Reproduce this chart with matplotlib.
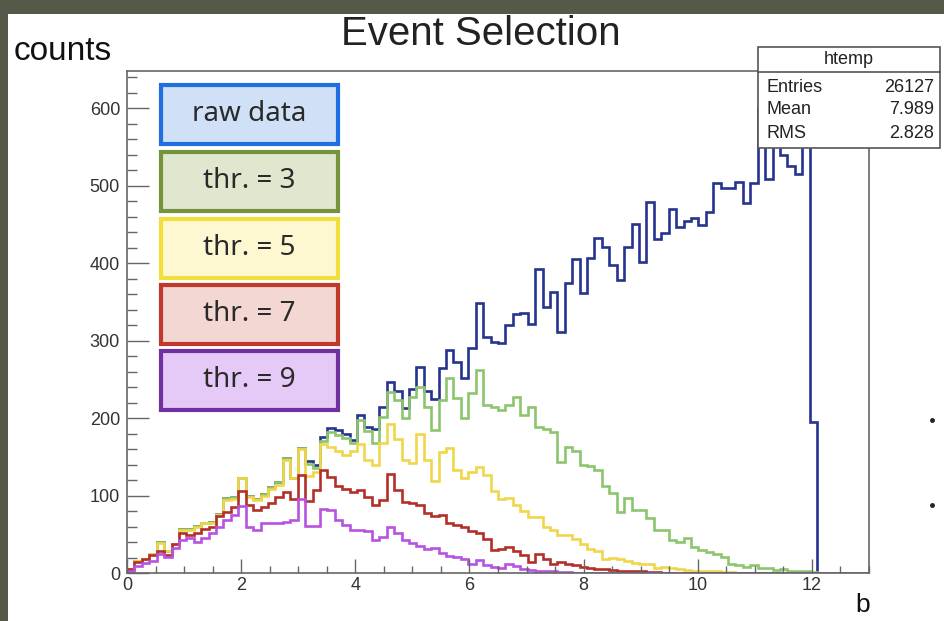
import numpy as np
import matplotlib
matplotlib.use("Agg")
import matplotlib.pyplot as plt
from matplotlib.patches import Rectangle
from matplotlib.lines import Line2D
from matplotlib.ticker import MultipleLocator

# histogram binning: 100 bins on 0..13
edges = np.linspace(0, 13, 101)

raw = [5, 15, 18, 25, 40, 29, 38, 57, 57, 61,
       65, 66, 76, 97, 98, 123, 99, 95, 102, 111,
       117, 148, 123, 161, 145, 140, 175, 187, 184, 179,
       172, 204, 189, 186, 214, 247, 235, 213, 237, 266,
       235, 224, 264, 288, 272, 252, 290, 348, 304, 298,
       297, 320, 334, 336, 322, 393, 343, 363, 311, 374,
       405, 361, 406, 432, 421, 397, 378, 421, 450, 401,
       479, 431, 439, 470, 446, 455, 458, 449, 466, 503,
       497, 497, 505, 477, 503, 600, 508, 585, 539, 526,
       515, 615, 195, 0, 0, 0, 0, 0, 0, 0]

thr3 = [5, 15, 18, 25, 40, 29, 38, 57, 57, 61,
        65, 66, 76, 97, 98, 123, 99, 95, 102, 111,
        117, 148, 123, 161, 141, 136, 171, 182, 178, 174,
        168, 198, 183, 168, 201, 234, 223, 200, 227, 240,
        214, 184, 223, 252, 226, 200, 232, 262, 217, 214,
        210, 217, 227, 204, 214, 188, 186, 182, 143, 163,
        157, 140, 138, 133, 112, 103, 79, 97, 81, 81,
        71, 55, 55, 43, 40, 45, 34, 30, 27, 24,
        21, 12, 10, 8, 10, 6, 6, 4, 5, 3,
        3, 2, 1, 0, 0, 0, 0, 0, 0, 0]

thr5 = [5, 15, 18, 25, 39, 28, 37, 56, 56, 60,
        65, 65, 75, 94, 96, 122, 98, 94, 99, 109,
        113, 146, 122, 160, 125, 130, 166, 163, 157, 152,
        157, 166, 146, 140, 168, 192, 173, 146, 142, 180,
        146, 119, 156, 161, 133, 123, 131, 137, 127, 106,
        96, 97, 88, 80, 72, 72, 60, 56, 49, 49,
        44, 37, 31, 29, 18, 20, 18, 15, 13, 11,
        12, 7, 8, 6, 5, 4, 3, 3, 2, 2,
        1, 1, 0, 0, 0, 0, 0, 0, 0, 0,
        0, 0, 0, 0, 0, 0, 0, 0, 0, 0]

thr7 = [5, 14, 18, 23, 29, 23, 37, 51, 49, 51,
        57, 60, 73, 79, 85, 106, 88, 81, 85, 91,
        98, 104, 96, 126, 93, 107, 133, 124, 112, 109,
        105, 107, 98, 88, 94, 128, 107, 92, 91, 88,
        77, 73, 75, 65, 62, 60, 54, 51, 44, 30,
        31, 33, 28, 23, 14, 24, 18, 11, 14, 12,
        10, 8, 7, 5, 5, 4, 3, 3, 2, 2,
        1, 1, 0, 0, 0, 0, 0, 0, 0, 0,
        0, 0, 0, 0, 0, 0, 0, 0, 0, 0,
        0, 0, 0, 0, 0, 0, 0, 0, 0, 0]

thr9 = [3, 9, 13, 16, 25, 21, 32, 42, 45, 40,
        45, 51, 60, 69, 75, 86, 60, 56, 64, 65,
        65, 66, 68, 95, 61, 61, 82, 81, 69, 62,
        56, 55, 54, 42, 47, 60, 52, 42, 39, 35,
        31, 32, 26, 22, 21, 18, 12, 17, 10, 8,
        7, 11, 9, 5, 4, 3, 2, 2, 1, 1,
        0, 0, 0, 0, 0, 0, 0, 0, 0, 0,
        0, 0, 0, 0, 0, 0, 0, 0, 0, 0,
        0, 0, 0, 0, 0, 0, 0, 0, 0, 0,
        0, 0, 0, 0, 0, 0, 0, 0, 0, 0]

series = [raw, thr3, thr5, thr7, thr9]
line_colors = ["#26338f", "#8cc56e", "#f0d64a", "#b3302a", "#b653e0"]
labels = ["raw data", "thr. = 3", "thr. = 5", "thr. = 7", "thr. = 9"]
box_fill = ["#cfe0f7", "#dfe8cf", "#fdf7d2", "#f2d7d3", "#e5c9f6"]
box_edge = ["#1f6fe0", "#76923c", "#f3df3c", "#c0392b", "#7030a0"]

W, H = 945, 621
fig = plt.figure(figsize=(W / 100, H / 100), dpi=100)
fig.patch.set_facecolor("#555a48")

def fx(x):
    return x / W

def fy(y):
    return 1 - y / H

# white slide area
fig.add_artist(Rectangle((fx(8), 0), 1 - fx(8), fy(14), transform=fig.transFigure,
                         facecolor="white", edgecolor="none", zorder=0))

ax = fig.add_axes([fx(127), fy(573), (869 - 127) / W, (573 - 71) / H])
for vals, c in zip(series, line_colors):
    ax.stairs(vals, edges, color=c, lw=1.9)

ax.set_xlim(0, 13)
ax.set_ylim(0, 648)
ax.set_xticks(range(0, 13, 2))
ax.xaxis.set_minor_locator(MultipleLocator(0.5))
ax.set_yticks(range(0, 700, 100))
ax.yaxis.set_minor_locator(MultipleLocator(20))
for s in ax.spines.values():
    s.set_color("#666666")
    s.set_linewidth(1.2)
ax.tick_params(axis="x", which="major", direction="in", length=10, width=1, color="#666666",
               labelsize=13, labelcolor="#333333", pad=3)
ax.tick_params(axis="x", which="minor", direction="in", length=5, width=1, color="#666666")
ax.tick_params(axis="y", which="major", direction="in", length=16, width=1, color="#666666",
               labelsize=13, labelcolor="#333333", pad=5)
ax.tick_params(axis="y", which="minor", direction="in", length=7, width=1, color="#666666")
for lab in ax.get_xticklabels() + ax.get_yticklabels():
    lab.set_family("Liberation Sans")

# titles
fig.text(fx(481), fy(34), "Event Selection", ha="center", va="center", fontsize=29,
         family="Liberation Sans", color="#222222")
fig.text(fx(14), fy(52), "counts", ha="left", va="center", fontsize=24,
         family="Liberation Sans", color="#111111")
fig.text(fx(863), fy(605), "b", ha="center", va="center", fontsize=19,
         family="Liberation Sans", color="#111111")

# legend boxes
box_tops = [85, 152, 219, 285, 351]
for top, lab, fc, ec in zip(box_tops, labels, box_fill, box_edge):
    fig.add_artist(Rectangle((fx(161), fy(top + 59)), (338 - 161) / W, 59 / H,
                             transform=fig.transFigure, facecolor=fc, edgecolor=ec,
                             linewidth=3, zorder=5))
    fig.text(fx(249), fy(top + 29), lab, ha="center", va="center", fontsize=20,
             family="Noto Sans", color="#2a2a2a", zorder=6)

# stats box
fig.add_artist(Rectangle((fx(758), fy(148)), (940 - 758) / W, (148 - 47) / H,
                         transform=fig.transFigure, facecolor="white", edgecolor="#555555",
                         linewidth=1.2, zorder=5))
fig.add_artist(Line2D([fx(758), fx(940)], [fy(72), fy(72)], transform=fig.transFigure,
                      color="#555555", lw=1.2, zorder=6))
fig.text(fx(849), fy(60), "htemp", ha="center", va="center", fontsize=13,
         family="Liberation Sans", color="#222222", zorder=7)
stat_names = ["Entries", "Mean", "RMS"]
stat_vals = ["26127", "7.989", "2.828"]
for i, (n, v) in enumerate(zip(stat_names, stat_vals)):
    y = 87 + i * 23
    fig.text(fx(767), fy(y), n, ha="left", va="center", fontsize=13,
             family="Liberation Sans", color="#222222", zorder=7)
    fig.text(fx(934), fy(y), v, ha="right", va="center", fontsize=13,
             family="Liberation Sans", color="#222222", zorder=7)

# stray bullet dots at right edge of the slide
for yy in [420, 505]:
    fig.add_artist(Line2D([fx(932)], [fy(yy)], marker="o", ms=2.5, color="#222222",
                          transform=fig.transFigure))

fig.savefig("out.png", dpi=100)
